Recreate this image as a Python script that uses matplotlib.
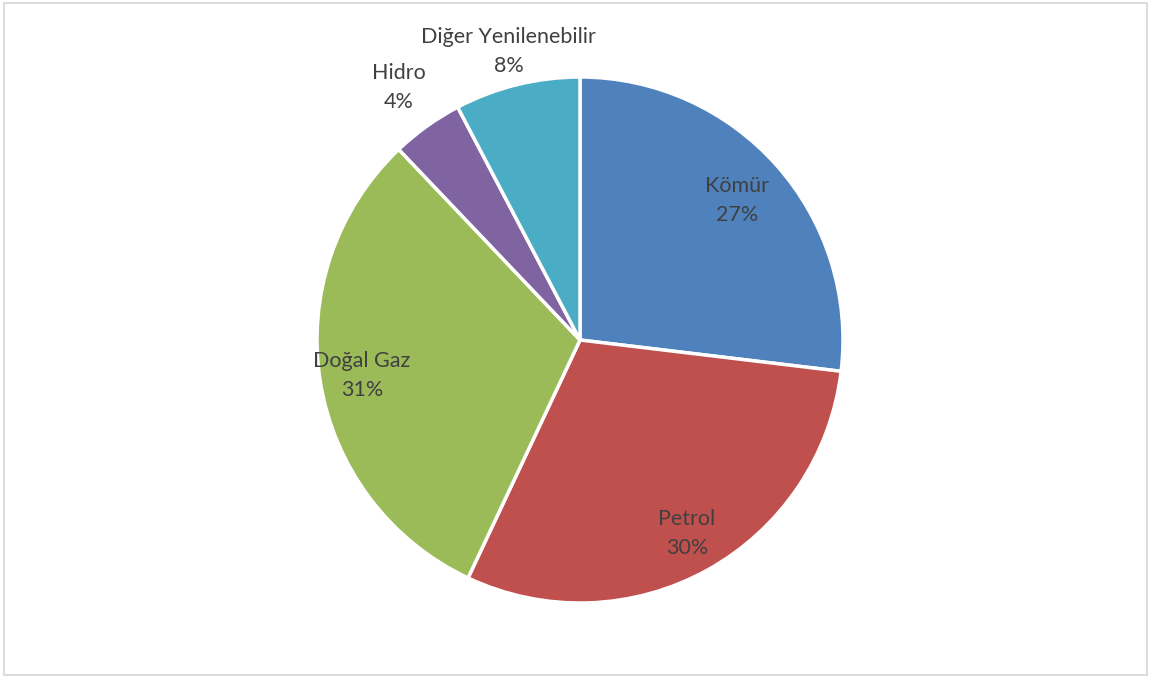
import numpy as np
import matplotlib
matplotlib.use("Agg")
import matplotlib.pyplot as plt
from matplotlib.patches import Rectangle

categories = ["Kömür", "Petrol", "Doğal Gaz", "Hidro", "Diğer Yenilenebilir"]
shares = [26.9, 30.1, 30.9, 4.4, 7.7]
colors = ["#4F81BD", "#C0504D", "#9BBB59", "#8064A2", "#4BACC6"]
label_radius = [0.80, 0.84, 0.84, 1.18, 1.13]

W, H = 1151, 677
fig = plt.figure(figsize=(W / 100, H / 100), dpi=100)
fig.patch.set_facecolor("white")
fig.add_artist(Rectangle((3.5 / W, 2.5 / H), (1147 - 3.5) / W, (674.5 - 2.5) / H,
                         transform=fig.transFigure, fill=False,
                         edgecolor="#D9D9D9", linewidth=1.3))

ax = fig.add_axes([0, 0, 1, 1])
R = 263.0
cx, cy = 580.0, 340.0
wedges, _ = ax.pie(shares, colors=colors, startangle=90, counterclock=False,
                   radius=1.0, wedgeprops=dict(edgecolor="white", linewidth=2.5))
ax.set_xlim(-cx / R, (W - cx) / R)
ax.set_ylim(-(H - cy) / R, cy / R)
ax.set_aspect("auto")
ax.axis("off")

total = sum(shares)
for w, name, val, lr in zip(wedges, categories, shares, label_radius):
    mid = np.deg2rad((w.theta1 + w.theta2) / 2)
    x, y = lr * np.cos(mid), lr * np.sin(mid)
    pct = f"{round(val / total * 100):.0f}%"
    ax.text(x, y, f"{name}\n{pct}", ha="center", va="center", fontsize=15.5,
            color="#404040", family=["Lato", "DejaVu Sans"], linespacing=1.55)

fig.savefig("out.png", dpi=100)
